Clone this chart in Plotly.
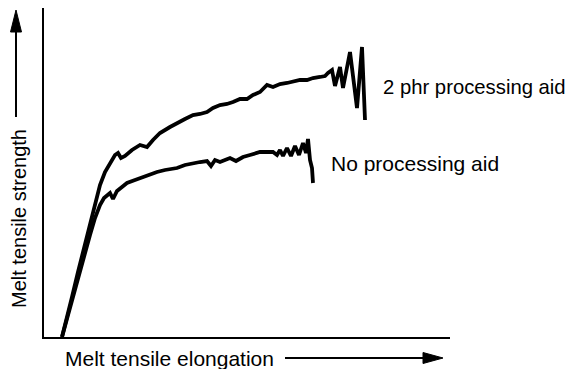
import plotly.graph_objects as go

# Values (arbitrary units, origin at the axes corner)
aid_x = [18, 22, 28, 34, 40, 46, 51, 56, 61, 66, 71, 74, 77, 81, 88, 96, 103, 109, 116, 126,
         133, 141, 149, 156, 163, 169, 176, 183, 189, 196, 203, 209, 216, 223, 229, 236, 243,
         249, 256, 263, 269, 276, 281, 284, 288, 291, 294, 296, 299, 302, 306, 313, 318, 321]
aid_y = [0, 15, 40, 65, 89, 112, 132, 152, 165, 174, 182, 184, 179, 181, 187, 192, 190, 197, 204, 210,
         214, 218, 222, 223, 225, 229, 232, 233, 235, 238, 238, 242, 245, 252, 250, 253, 254,
         255, 257, 257, 259, 260, 261, 264, 267, 251, 265, 270, 249, 263, 285, 229, 290, 217]

noaid_x = [18, 22, 28, 34, 40, 46, 51, 56, 60, 63, 66, 69, 73, 78, 83, 91, 99, 106, 113, 121,
           133, 141, 149, 156, 163, 167, 171, 176, 181, 186, 192, 199, 206, 216, 223, 229, 233,
           236, 239, 243, 247, 251, 255, 259, 262, 264, 266, 268, 269]
noaid_y = [0, 15, 37, 59, 82, 102, 119, 132, 139, 141, 144, 138, 146, 150, 154, 157, 160, 163, 165, 167,
           169, 172, 174, 175, 176, 171, 177, 175, 177, 179, 176, 180, 182, 185, 185, 185, 182,
           187, 181, 189, 181, 191, 182, 194, 184, 198, 177, 169, 154]

labels = ["2 phr processing aid", "No processing aid"]

W, H = 579, 369
OFF = 8  # the page body adds this much on the left and top
L, R, T, B = 44, 450, 8, 337  # plot area in screen pixels


def px(x):
    return (x - L) / (R - L)


def py(y):
    return (B - y) / (B - T)


fig = go.Figure()
for xs, ys, name in [(aid_x, aid_y, labels[0]), (noaid_x, noaid_y, labels[1])]:
    fig.add_trace(go.Scatter(x=xs, y=ys, mode='lines', name=name,
                             line=dict(color='black', width=3.8)))

family = 'Liberation Sans, Arial, sans-serif'
font = dict(family=family, size=21, color='black')

annotations = [
    dict(x=px(381), y=py(87), text=labels[0], xanchor='left', yanchor='middle',
         font=dict(family=family, size=20.3, color='black')),
    dict(x=px(329), y=py(163), text=labels[1], xanchor='left', yanchor='middle', font=font),
    dict(x=px(63), y=py(358), text='Melt tensile elongation', xanchor='left', yanchor='middle', font=font),
    dict(x=px(19), y=py(219), text='Melt tensile strength', textangle=-90,
         xanchor='center', yanchor='middle', font=dict(family=family, size=20, color='black')),
]
for a in annotations:
    a.update(xref='paper', yref='paper', showarrow=False)

shapes = [
    # y arrow
    dict(type='line', x0=px(16), y0=py(117), x1=px(16), y1=py(30), line=dict(color='black', width=2)),
    dict(type='path', path=f'M {px(16)} {py(10)} L {px(10.5)} {py(32)} L {px(21.5)} {py(32)} Z',
         fillcolor='black', line=dict(color='black', width=1)),
    # x arrow
    dict(type='line', x0=px(285), y0=py(358), x1=px(425), y1=py(358), line=dict(color='black', width=2)),
    dict(type='path', path=f'M {px(443)} {py(358)} L {px(423)} {py(352.5)} L {px(423)} {py(363.5)} Z',
         fillcolor='black', line=dict(color='black', width=1)),
]
for s in shapes:
    s.update(xref='paper', yref='paper')

fig.update_layout(
    width=W, height=H, autosize=False,
    margin=dict(l=L - OFF, r=W - (R - OFF), t=T - OFF, b=H - (B - OFF), pad=0),
    plot_bgcolor='white', paper_bgcolor='white',
    showlegend=False,
    annotations=annotations,
    shapes=shapes,
)
fig.update_xaxes(range=[0, R - L], showgrid=False, zeroline=False, showticklabels=False,
                 ticks='', showline=True, linecolor='black', linewidth=2)
fig.update_yaxes(range=[0, B - T], showgrid=False, zeroline=False, showticklabels=False,
                 ticks='', showline=True, linecolor='black', linewidth=2)

fig.write_html("out.html")
